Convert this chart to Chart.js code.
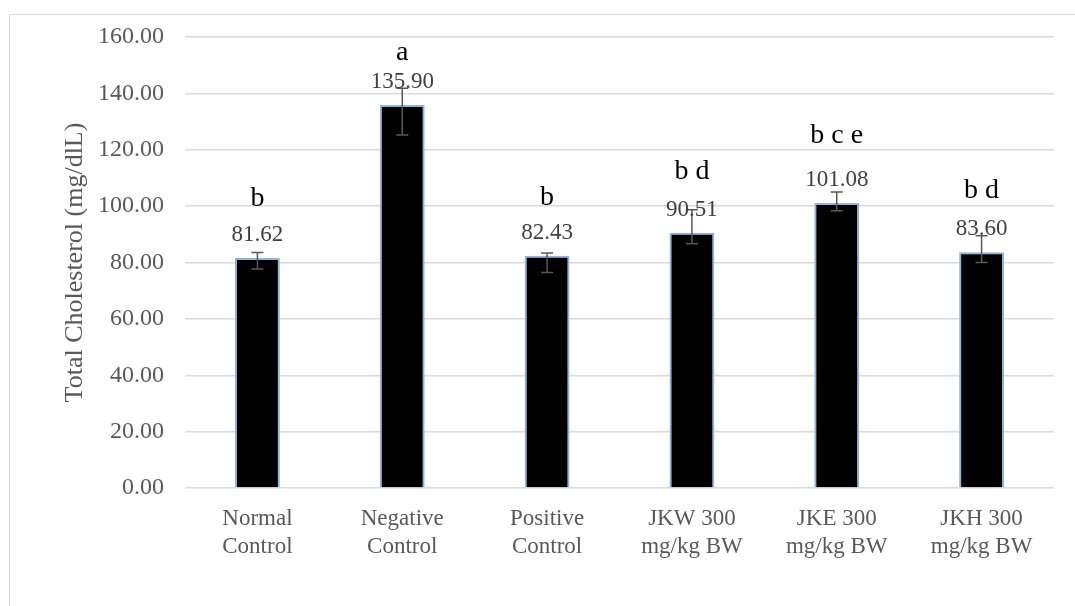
<!DOCTYPE html>
<html>
<head>
<meta charset="utf-8">
<script src="https://cdn.jsdelivr.net/npm/chart.js@4"></script>
<style>
  html, body { margin: 0; padding: 0; background: #fff; overflow: hidden; }
  #wrap { position: relative; width: 1075px; height: 606px; }
  #frame { position: absolute; left: 9px; top: 14px; width: 1200px; height: 800px; border: 1px solid #d9d9d9; }
  #output { position: absolute; left: 0; top: 0; }
</style>
</head>
<body>
<div id="wrap">
  <div id="frame"></div>
  <canvas id="output" width="1075" height="606"></canvas>
</div>
<script>
const groups = [["Normal", "Control"], ["Negative", "Control"], ["Positive", "Control"],
    ["JKW 300", "mg/kg BW"], ["JKE 300", "mg/kg BW"], ["JKH 300", "mg/kg BW"]];
const cholesterol = [81.62, 135.90, 82.43, 90.51, 101.08, 83.60];
const errUp = [1.9, 5.9, 0.9, 8.2, 3.9, 5.9];
const errDown = [3.9, 10.7, 6.0, 3.9, 2.7, 3.6];
const letters = ["b", "a", "b", "b d", "b c e", "b d"];
// distance from bar top to letter baseline, px
const letterGap = [52, 45, 51, 54, 60, 54];

const serif = "'Liberation Serif', 'Times New Roman', serif";

const extras = {
    id: "extras",
    afterDatasetsDraw(chart) {
        const ctx = chart.ctx;
        const y = chart.scales.y;
        const meta = chart.getDatasetMeta(0);
        ctx.save();
        meta.data.forEach((bar, i) => {
            const x = bar.x;
            const top = y.getPixelForValue(cholesterol[i] + errUp[i]);
            const bottom = y.getPixelForValue(cholesterol[i] - errDown[i]);
            ctx.strokeStyle = "#595959";
            ctx.lineWidth = 1.5;
            ctx.beginPath();
            ctx.moveTo(x, top); ctx.lineTo(x, bottom);
            ctx.moveTo(x - 6, top); ctx.lineTo(x + 6, top);
            ctx.moveTo(x - 6, bottom); ctx.lineTo(x + 6, bottom);
            ctx.stroke();

            ctx.textAlign = "center";
            ctx.textBaseline = "alphabetic";
            ctx.fillStyle = "#404040";
            ctx.font = "23px " + serif;
            ctx.fillText(cholesterol[i].toFixed(2), x, bar.y - 17);
            ctx.fillStyle = "#000";
            ctx.font = "28px " + serif;
            ctx.fillText(letters[i], x, bar.y - letterGap[i]);
        });
        ctx.restore();
    }
};

new Chart(document.getElementById("output"), {
    type: "bar",
    data: {
        labels: groups,
        datasets: [{
            data: cholesterol,
            backgroundColor: "#000",
            borderColor: "#8db3e2",
            borderWidth: 2,
            barPercentage: 0.31,
            categoryPercentage: 1
        }]
    },
    options: {
        responsive: false,
        animation: false,
        layout: { padding: { left: 0, top: 37, right: 21, bottom: 0 } },
        plugins: { legend: { display: false }, tooltip: { enabled: false } },
        scales: {
            x: {
                grid: { display: false, drawTicks: false },
                border: { display: false },
                ticks: { color: "#595959", font: { family: serif, size: 23, lineHeight: 1.22 }, padding: 17, maxRotation: 0 },
                afterFit: s => { s.height = 118; }
            },
            y: {
                min: 0,
                max: 160,
                ticks: { stepSize: 20, color: "#595959", font: { family: serif, size: 24 }, padding: 21,
                    callback: v => v.toFixed(2) },
                grid: { color: "#d9d9d9", lineWidth: 1.5, drawTicks: false },
                border: { display: false },
                title: { display: true, text: "Total Cholesterol (mg/dlL)", color: "#595959",
                    font: { family: serif, size: 26 }, padding: { top: 60, bottom: 0 } },
                afterFit: s => { s.width = 185; }
            }
        }
    },
    plugins: [extras]
});
</script>
</body>
</html>
